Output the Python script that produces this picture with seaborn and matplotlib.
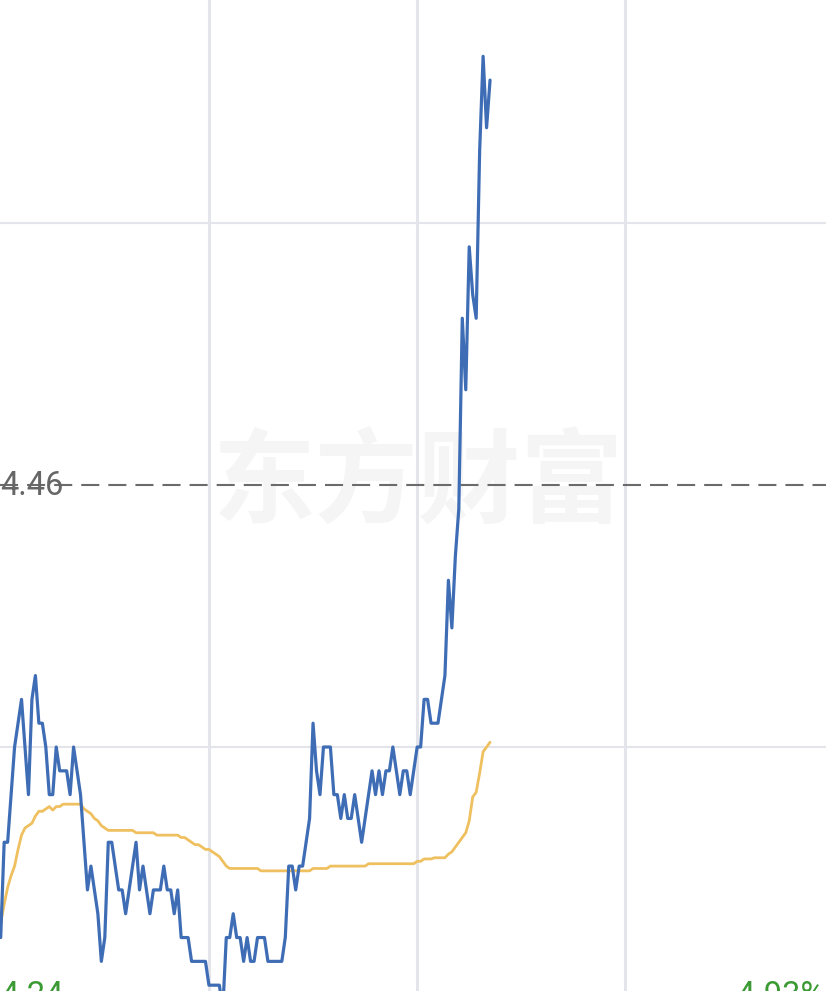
import pandas as pd
import seaborn as sns
import matplotlib.pyplot as plt

sns.set_theme(style="whitegrid")
plt.rcParams['font.family'] = ['Roboto', 'DejaVu Sans']
plt.rcParams['lines.scale_dashes'] = False

# intraday minute data (first 142 minutes of the session)
prev_close = 4.46
low_label = "4.24"
pct_label = "-4.93%"
watermark = "东方财富"
grid_minutes = [60, 120, 180]
grid_prices = [4.35, 4.57]

price = [
    4.27, 4.31, 4.31, 4.33, 4.35, 4.36, 4.37, 4.35, 4.33, 4.37,
    4.38, 4.36, 4.36, 4.35, 4.33, 4.33, 4.35, 4.34, 4.34, 4.34,
    4.33, 4.35, 4.34, 4.33, 4.31, 4.29, 4.30, 4.29, 4.28, 4.26,
    4.27, 4.31, 4.31, 4.30, 4.29, 4.29, 4.28, 4.29, 4.30, 4.31,
    4.29, 4.30, 4.29, 4.28, 4.29, 4.29, 4.29, 4.30, 4.29, 4.29,
    4.28, 4.29, 4.27, 4.27, 4.27, 4.26, 4.26, 4.26, 4.26, 4.26,
    4.25, 4.25, 4.25, 4.25, 4.24, 4.27, 4.27, 4.28, 4.27, 4.27,
    4.26, 4.27, 4.26, 4.26, 4.27, 4.27, 4.27, 4.26, 4.26, 4.26,
    4.26, 4.26, 4.27, 4.30, 4.30, 4.29, 4.30, 4.30, 4.31, 4.32,
    4.36, 4.34, 4.33, 4.35, 4.35, 4.35, 4.33, 4.33, 4.32, 4.33,
    4.32, 4.32, 4.33, 4.32, 4.31, 4.32, 4.33, 4.34, 4.33, 4.34,
    4.33, 4.34, 4.34, 4.35, 4.34, 4.33, 4.34, 4.34, 4.33, 4.34,
    4.35, 4.35, 4.37, 4.37, 4.36, 4.36, 4.36, 4.37, 4.38, 4.42,
    4.40, 4.43, 4.45, 4.53, 4.50, 4.56, 4.54, 4.53, 4.60, 4.64,
    4.61, 4.63,
]

avg_price = [
    4.276, 4.284, 4.291, 4.296, 4.300, 4.307, 4.313, 4.316, 4.317, 4.318,
    4.321, 4.323, 4.323, 4.324, 4.325, 4.3235, 4.325, 4.325, 4.326, 4.326,
    4.326, 4.326, 4.326, 4.326, 4.324, 4.323, 4.322, 4.320, 4.319, 4.317,
    4.316, 4.315, 4.315, 4.315, 4.315, 4.315, 4.315, 4.315, 4.315, 4.314,
    4.314, 4.314, 4.314, 4.314, 4.314, 4.313, 4.313, 4.313, 4.313, 4.313,
    4.313, 4.313, 4.312, 4.312, 4.311, 4.310, 4.309, 4.309, 4.308, 4.307,
    4.307, 4.306, 4.305, 4.304, 4.302, 4.300, 4.299, 4.299, 4.299, 4.299,
    4.299, 4.299, 4.299, 4.299, 4.299, 4.298, 4.298, 4.298, 4.298, 4.298,
    4.298, 4.298, 4.298, 4.298, 4.298, 4.298, 4.298, 4.298, 4.298, 4.298,
    4.299, 4.299, 4.299, 4.299, 4.299, 4.300, 4.300, 4.300, 4.300, 4.300,
    4.300, 4.300, 4.300, 4.300, 4.300, 4.300, 4.301, 4.301, 4.301, 4.301,
    4.301, 4.301, 4.301, 4.301, 4.301, 4.301, 4.301, 4.301, 4.301, 4.301,
    4.302, 4.302, 4.303, 4.303, 4.303, 4.3035, 4.3035, 4.3035, 4.3035, 4.305,
    4.306, 4.308, 4.310, 4.312, 4.314, 4.319, 4.329, 4.331, 4.339, 4.348,
    4.350, 4.352,
]

minute = list(range(len(price)))
df = pd.DataFrame({"minute": minute, "price": price, "avg": avg_price})

fig = plt.figure(figsize=(8.26, 9.91), dpi=100)
ax = fig.add_axes([0, 0, 1, 1])

ax.text(120, prev_close, watermark, family=['Noto Sans CJK SC', 'DejaVu Sans'],
        fontsize=74, fontweight='bold', color='#f5f5f5',
        ha='center', va='center', zorder=0)

ax.axhline(prev_close, color='#6b6b6b', lw=1.5, dashes=(13, 6.5), zorder=2)

sns.lineplot(data=df, x="minute", y="avg", ax=ax, color='#efc05f', lw=2.0,
             estimator=None, sort=False, zorder=3)
sns.lineplot(data=df, x="minute", y="price", ax=ax, color='#3e6db5', lw=2.3,
             estimator=None, sort=False, zorder=4)

ax.set_xlim(-0.2, 237.8)
ax.set_ylim(4.24756, 4.66363)
ax.set_xticks(grid_minutes)
ax.set_yticks(grid_prices)
ax.set_xticklabels([])
ax.set_yticklabels([])
ax.tick_params(length=0)
ax.xaxis.grid(True, color='#e3e5ea', lw=2.2)
ax.yaxis.grid(True, color='#e3e5ea', lw=1.5)
ax.set_xlabel('')
ax.set_ylabel('')
for s in ax.spines.values():
    s.set_visible(False)

ax.text(0.0, 4.4558, f"{prev_close:.2f}", transform=ax.get_yaxis_transform(),
        fontsize=23.5, color='#666666', ha='left', va='baseline', zorder=5)
ax.text(0.0, 4.2415, low_label, transform=ax.get_yaxis_transform(),
        fontsize=23.5, color='#3c9a34', ha='left', va='baseline', zorder=5)
ax.text(728 / 826, 4.2415, pct_label, transform=ax.get_yaxis_transform(),
        fontsize=23.5, color='#3c9a34', ha='left', va='baseline', zorder=5)

fig.savefig("out.png", dpi=100)
